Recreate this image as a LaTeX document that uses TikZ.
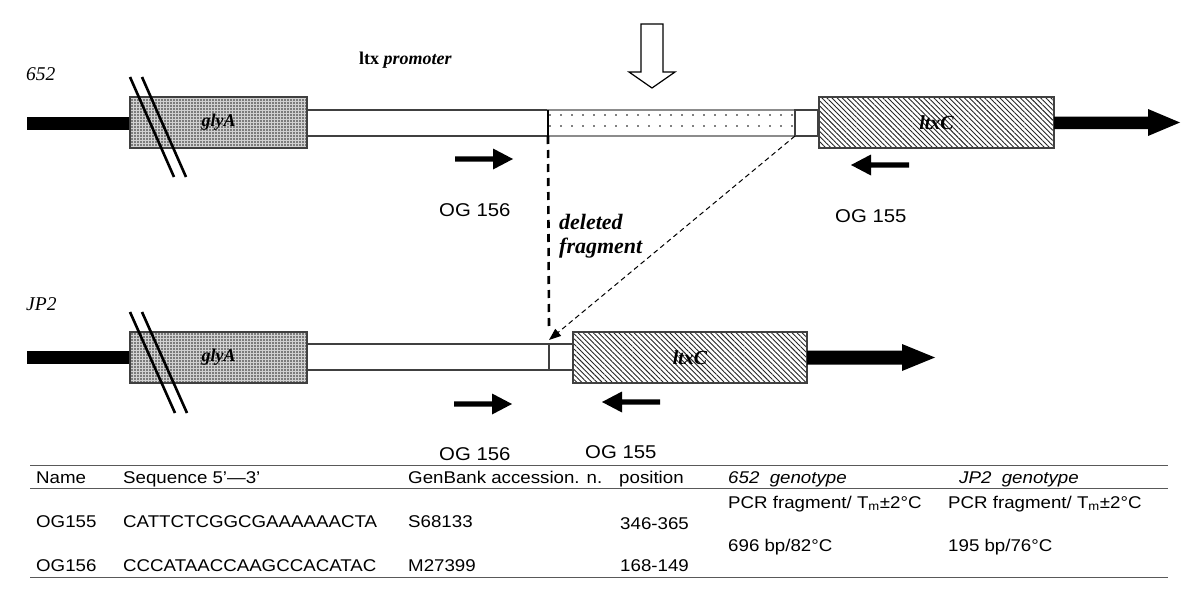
\documentclass[tikz,border=0pt]{standalone}
\usepackage{fontspec}
\setmainfont{Liberation Serif}
\newfontfamily\arialx[FakeStretch=1.1]{Liberation Sans}
\usetikzlibrary{patterns,patterns.meta,arrows.meta}
\begin{document}
\begin{tikzpicture}[x=1pt,y=-1pt,
  box/.style={draw=black!75, line width=1.1pt, inner sep=0pt, outer sep=0pt, fill=white},
  glybox/.style={box, minimum width=177pt, minimum height=51pt, preaction={fill=black!18},
     pattern={Dots[distance=3pt,radius=0.8pt]}, pattern color=black!85,
     font=\bfseries\itshape\fontsize{18}{18}\selectfont},
  ltxbox/.style={box, minimum width=235pt, minimum height=51pt, preaction={fill=white},
     pattern={Lines[angle=-45,distance=3.6pt,line width=0.9pt]}, pattern color=black!85,
     font=\bfseries\itshape\fontsize{20}{20}\selectfont},
  probox/.style={box, minimum height=26pt},
  fragbox/.style={draw=black!45, line width=1.1pt, inner sep=0pt, outer sep=0pt, minimum height=26pt,
     preaction={fill=white}, pattern={Dots[distance=11pt,radius=0.8pt]}, pattern color=black},
  strain/.style={anchor=base west, inner sep=0pt, font=\itshape\fontsize{19.5}{19.5}\selectfont},
  oglabel/.style={anchor=base west, inner sep=0pt, font=\arialx\fontsize{18.5}{18.5}\selectfont},
  tab/.style={anchor=base west, inner sep=0pt, font=\arialx\fontsize{17}{17}\selectfont},
  tabit/.style={tab, font=\arialx\itshape\fontsize{17}{17}\selectfont},
  delfont/.style={anchor=base west, inner sep=0pt, font=\bfseries\itshape\fontsize{22}{22}\selectfont},
  slash/.style={line width=2.6pt},
  rule/.style={draw=black!65, line width=1pt},
  primerarrow/.pic={\fill (0,-2.6) -- (38,-2.6) -- (38,-10.5) -- (58,0) -- (38,10.5) -- (38,2.6) -- (0,2.6) -- cycle;}
]
\useasboundingbox (0,0) rectangle (1200,610);
\fill[white] (0,0) rectangle (1200,610);

% ---------- 652 ----------
\node[strain] (s652) at (26,81) {652};
\node[anchor=base west, inner sep=0pt, font=\bfseries\fontsize{18}{18}\selectfont] (prom) at (359,65) {ltx \itshape promoter};
\fill (27,116.5) rectangle (131,129.5);
\node[glybox] (gly1) at (218.5,122.5) {glyA};
\node[probox, minimum width=241pt] (pro1) at (427.5,123) {};
\node[fragbox, minimum width=247pt] (frag) at (671.5,123) {};
\node[probox, minimum width=23pt] (sm1) at (806.5,123) {};
\node[ltxbox] (ltx1) at (936.5,122.5) {ltxC};
\draw[line width=2pt] (pro1.north east) -- (pro1.south east);
\fill (1054,116.5) -- (1148,116.5) -- (1148,109) -- (1180,122.5) -- (1148,136) -- (1148,129) -- (1054,129) -- cycle;
\draw[slash] (130,77) -- (174,177);
\draw[slash] (142,77) -- (186,177);
% open arrow
\draw[line width=1.2pt, fill=white, line join=miter] (641,24) -- (663,24) -- (663,72) -- (675,72) -- (652,88) -- (629,72) -- (641,72) -- cycle;
% primers
\pic at (455,159) {primerarrow};
\pic[xscale=-1] at (909,165) {primerarrow};
\node[oglabel] (og156a) at (439,216) {OG 156};
\node[oglabel] (og155a) at (835,222) {OG 155};

% ---------- deleted fragment ----------
\node[delfont] (del1) at (559,229) {deleted};
\node[delfont] (del2) at (559,253) {fragment};
\coordinate (vend) at (549,330);
\coordinate (jtip) at (549,340);

% ---------- JP2 ----------
\node[strain] (sjp2) at (26,310) {JP2};
\fill (27,350.5) rectangle (131,363.5);
\node[glybox] (gly2) at (218.5,357.5) {glyA};
\node[probox, minimum width=242pt] (pro2) at (428,357) {};
\node[probox, minimum width=24pt] (sm2) at (561,357) {};
\node[ltxbox, minimum width=234pt] (ltx2) at (690,357.5) {ltxC};
\fill (807,350.5) -- (902,350.5) -- (902,344) -- (935,357.5) -- (902,371) -- (902,364.5) -- (807,364.5) -- cycle;
\draw[slash] (130,312) -- (175,413);
\draw[slash] (142,312) -- (187,413);
\pic at (454,404) {primerarrow};
\pic[xscale=-1] at (660,402) {primerarrow};
\node[oglabel] (og156b) at (439,460) {OG 156};
\node[oglabel] (og155b) at (585,458) {OG 155};

% dashed connectors
\draw[line width=2.6pt, dash pattern=on 8pt off 6pt] (frag.south west) -- (vend);
\draw[line width=1pt, dash pattern=on 5pt off 3.5pt, -{Triangle[length=12pt,width=9pt]}] (frag.south east) -- (jtip);

% ---------- table ----------
\draw[rule] (30,465) -- (1168,465);
\draw[rule] (30,488) -- (1168,488);
\draw[rule] (30,577) -- (1168,577);
\node[tab] (h1) at (36,483) {Name};
\node[tab] (h2) at (123,483) {Sequence 5’—3’};
\node[tab] (h3) at (408,483) {GenBank accession. n.};
\node[tab] (h4) at (619,483) {position};
\node[tabit] (h5) at (728,483) {652\ \ genotype};
\node[tabit] (h6) at (959,483) {JP2\ \ genotype};
\node[tab] (p1) at (728,508) {PCR fragment/ T\textsubscript{m}±2°C};
\node[tab] (p2) at (948,508) {PCR fragment/ T\textsubscript{m}±2°C};
\node[tab] (r1a) at (36,527) {OG155};
\node[tab] (r1b) at (123,527) {CATTCTCGGCGAAAAAACTA};
\node[tab] (r1c) at (408,527) {S68133};
\node[tab] (r1d) at (620,529) {346-365};
\node[tab] (f1) at (728,551) {696 bp/82°C};
\node[tab] (f2) at (948,551) {195 bp/76°C};
\node[tab] (r2a) at (36,571) {OG156};
\node[tab] (r2b) at (123,571) {CCCATAACCAAGCCACATAC};
\node[tab] (r2c) at (408,571) {M27399};
\node[tab] (r2d) at (620,571) {168-149};
\end{tikzpicture}
\end{document}
